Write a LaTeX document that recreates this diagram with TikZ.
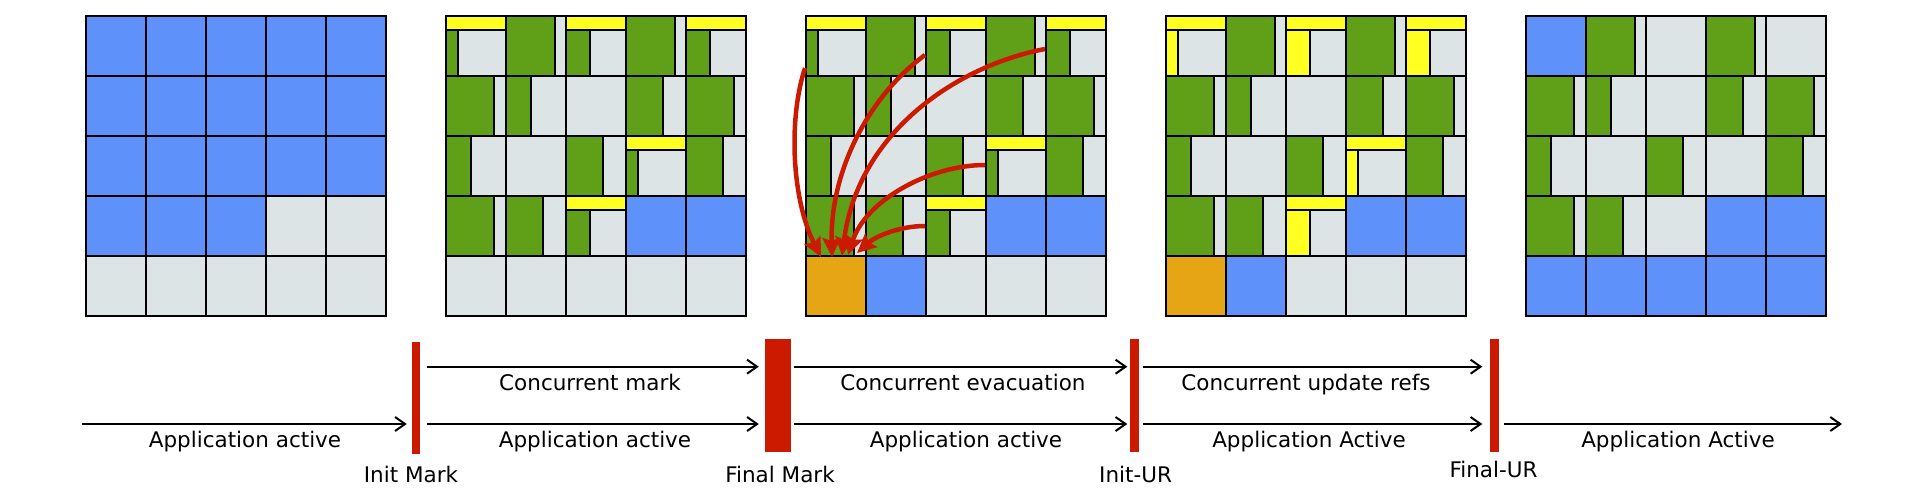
\documentclass[tikz,border=0pt]{standalone}
\usepackage{fontspec}
\setmainfont{DejaVu Sans}
\usetikzlibrary{arrows.meta}
\definecolor{blu}{HTML}{5E92FA}
\definecolor{gry}{HTML}{DCE4E5}
\definecolor{grn}{HTML}{60A018}
\definecolor{yel}{HTML}{FFFF22}
\definecolor{org}{HTML}{E6A515}
\definecolor{rd}{HTML}{CC1A00}
\tikzset{
  cellbox/.style={draw=black,line width=1.8pt},
  tl/.style={draw=black,line width=2pt,-{Straight Barb[length=10pt,width=14pt]}},
  bar/.style={fill=rd,draw=none,inner sep=0pt,minimum height=113pt},
  lbl/.style={anchor=base,inner sep=0pt,font=\fontsize{21.5}{26}\selectfont},
  mv/.style={draw=rd,line width=4.5pt,-{Stealth[length=19pt,width=18pt,inset=3pt]}}
}
\newcommand\fullc[4]{\draw[cellbox,fill=#4] ({#1+60*#2},{16+60*#3}) rectangle ++(60,60);}
\newcommand\grnc[4]{\draw[cellbox,fill=gry] ({#1+60*#2},{16+60*#3}) rectangle ++(60,60);\draw[cellbox,fill=grn] ({#1+60*#2},{16+60*#3}) rectangle ++(#4,60);}
\newcommand\yelc[5]{\draw[cellbox,fill=gry] ({#1+60*#2},{16+60*#3}) rectangle ++(60,60);\draw[cellbox,fill=#5] ({#1+60*#2},{30+60*#3}) rectangle ++(#4,46);\draw[cellbox,fill=yel] ({#1+60*#2},{16+60*#3}) rectangle ++(60,14);}
\newcommand\midgrid[2]{%
 \yelc{#1}{0}{0}{12}{#2}\grnc{#1}{1}{0}{49}\yelc{#1}{2}{0}{24}{#2}\grnc{#1}{3}{0}{49}\yelc{#1}{4}{0}{24}{#2}%
 \grnc{#1}{0}{1}{48}\grnc{#1}{1}{1}{25}\fullc{#1}{2}{1}{gry}\grnc{#1}{3}{1}{37}\grnc{#1}{4}{1}{48}%
 \grnc{#1}{0}{2}{25}\fullc{#1}{1}{2}{gry}\grnc{#1}{2}{2}{37}\yelc{#1}{3}{2}{12}{#2}\grnc{#1}{4}{2}{37}%
 \grnc{#1}{0}{3}{48}\grnc{#1}{1}{3}{37}\yelc{#1}{2}{3}{24}{#2}\fullc{#1}{3}{3}{blu}\fullc{#1}{4}{3}{blu}}
\begin{document}
\begin{tikzpicture}[x=1pt,y=-1pt]
\useasboundingbox[fill=white] (0,0) rectangle (1910,498);
% grid 1
\foreach \c in {0,...,4}{\fullc{86}{\c}{0}{blu}\fullc{86}{\c}{1}{blu}\fullc{86}{\c}{2}{blu}\fullc{86}{\c}{4}{gry}}
\fullc{86}{0}{3}{blu}\fullc{86}{1}{3}{blu}\fullc{86}{2}{3}{blu}\fullc{86}{3}{3}{gry}\fullc{86}{4}{3}{gry}
% grid 2
\midgrid{446}{grn}
\foreach \c in {0,...,4}{\fullc{446}{\c}{4}{gry}}
% grid 3
\midgrid{806}{grn}
\fullc{806}{0}{4}{org}\fullc{806}{1}{4}{blu}\fullc{806}{2}{4}{gry}\fullc{806}{3}{4}{gry}\fullc{806}{4}{4}{gry}
% grid 4
\midgrid{1166}{yel}
\fullc{1166}{0}{4}{org}\fullc{1166}{1}{4}{blu}\fullc{1166}{2}{4}{gry}\fullc{1166}{3}{4}{gry}\fullc{1166}{4}{4}{gry}
% grid 5
\fullc{1526}{0}{0}{blu}\grnc{1526}{1}{0}{49}\fullc{1526}{2}{0}{gry}\grnc{1526}{3}{0}{49}\fullc{1526}{4}{0}{gry}
\grnc{1526}{0}{1}{48}\grnc{1526}{1}{1}{25}\fullc{1526}{2}{1}{gry}\grnc{1526}{3}{1}{37}\grnc{1526}{4}{1}{48}
\grnc{1526}{0}{2}{25}\fullc{1526}{1}{2}{gry}\grnc{1526}{2}{2}{37}\fullc{1526}{3}{2}{gry}\grnc{1526}{4}{2}{37}
\grnc{1526}{0}{3}{48}\grnc{1526}{1}{3}{37}\fullc{1526}{2}{3}{gry}\fullc{1526}{3}{3}{blu}\fullc{1526}{4}{3}{blu}
\foreach \c in {0,...,4}{\fullc{1526}{\c}{4}{blu}}
% evacuation arrows
\coordinate (s1) at (805,68);   \coordinate (t1) at (821,257);
\coordinate (s2) at (925,55);   \coordinate (t2) at (832,257);
\coordinate (s3) at (1045,49);  \coordinate (t3) at (842,256);
\coordinate (s4) at (985,165);  \coordinate (t4) at (848,255);
\coordinate (s5) at (925,226);  \coordinate (t5) at (857,253);
\draw[mv] (s1) .. controls (788,120) and (792,200) .. (t1);
\draw[mv] (s2) .. controls (870,95) and (830,170) .. (t2);
\draw[mv] (s3) .. controls (960,65) and (858,130) .. (t3);
\draw[mv] (s4) .. controls (930,165) and (866,200) .. (t4);
\draw[mv] (s5) .. controls (900,226) and (876,236) .. (t5);
% timeline
\node[bar,minimum width=8pt,minimum height=112pt] (im) at (416,398) {};
\node[bar,minimum width=26pt] (fm) at (778,395.5) {};
\node[bar,minimum width=9pt] (iu) at (1134.5,395.5) {};
\node[bar,minimum width=9pt] (fu) at (1494.5,395.5) {};
\coordinate (a0) at (82,424);
\coordinate (up) at (0,366.7);
\coordinate (a5) at (1842,424);
\draw[tl,shorten >=5pt] (a0) -- (im.west |- a0);
\draw[tl,shorten <=7pt,shorten >=6pt] (im.east |- a0) -- (fm.west |- a0);
\draw[tl,shorten <=7pt,shorten >=6pt] (im.east |- up) -- (fm.west |- up);
\draw[tl,shorten <=3pt,shorten >=2.5pt] (fm.east |- a0) -- (iu.west |- a0);
\draw[tl,shorten <=3pt,shorten >=2.5pt] (fm.east |- up) -- (iu.west |- up);
\draw[tl,shorten <=4pt,shorten >=7.5pt] (iu.east |- a0) -- (fu.west |- a0);
\draw[tl,shorten <=4pt,shorten >=7.5pt] (iu.east |- up) -- (fu.west |- up);
\draw[tl,shorten <=5pt] (fu.east |- a0) -- (a5);
% labels
\node[lbl] (l1) at (245,447) {Application active};
\node[lbl] (l2) at (590,390.7) {Concurrent mark};
\node[lbl] (l3) at (595,447) {Application active};
\node[lbl] (l4) at (963,390.7) {Concurrent evacuation};
\node[lbl] (l5) at (966,447) {Application active};
\node[lbl] (l6) at (1306,390.7) {Concurrent update refs};
\node[lbl] (l7) at (1309,447) {Application Active};
\node[lbl] (l8) at (1678,447) {Application Active};
\node[lbl] (n1) at (411,482) {Init Mark};
\node[lbl] (n2) at (780,482) {Final Mark};
\node[lbl] (n3) at (1135.6,482) {Init-UR};
\node[lbl] (n4) at (1493.5,477) {Final-UR};
\end{tikzpicture}
\end{document}
